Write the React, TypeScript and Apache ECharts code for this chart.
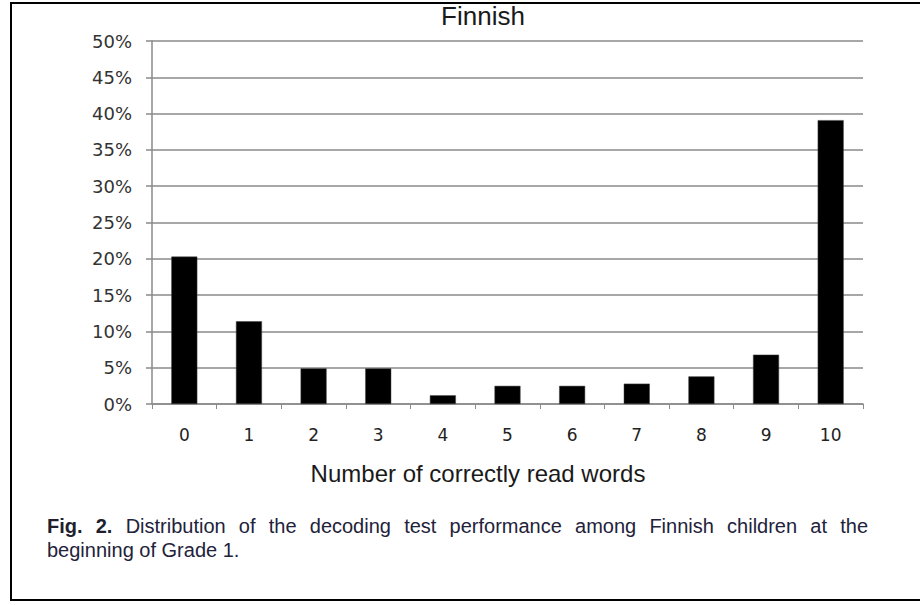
import React, { useEffect, useRef } from "react";
import * as echarts from "echarts";

const categories = ["0", "1", "2", "3", "4", "5", "6", "7", "8", "9", "10"];
const percentValues = [20.3, 11.4, 4.9, 4.9, 1.2, 2.5, 2.5, 2.8, 3.8, 6.8, 39.1];
const yTicks = { min: 0, max: 50, interval: 5 };
const titleText = "Finnish";
const xAxisName = "Number of correctly read words";
const captionBold = "Fig. 2.";
const captionLine1 = "Distribution of the decoding test performance among Finnish children at the";
const captionLine2 = "beginning of Grade 1.";

const CAP_FONT = "Liberation Sans";
const CAP_SIZE = 20;
const CAP_LH = 21;

function justifiedLine(x0: number, x1: number, y: number) {
  const canvas = document.createElement("canvas");
  const ctx = canvas.getContext("2d")!;
  const words: { t: string; bold: boolean }[] = [
    ...captionBold.split(" ").map((t) => ({ t, bold: true })),
    ...captionLine1.split(" ").map((t) => ({ t, bold: false })),
  ];
  const widths = words.map((w) => {
    ctx.font = `${w.bold ? "bold " : ""}${CAP_SIZE}px "${CAP_FONT}"`;
    return ctx.measureText(w.t).width;
  });
  const total = widths.reduce((a, b) => a + b, 0);
  const gap = (x1 - x0 - total) / (words.length - 1);
  let x = x0;
  return words.map((w, i) => {
    const el = {
      type: "text",
      x,
      y,
      style: {
        text: w.t,
        fontSize: CAP_SIZE,
        lineHeight: CAP_LH,
        fontWeight: w.bold ? "bold" : "normal",
        fontFamily: CAP_FONT,
        fill: w.bold ? "#1f1f2e" : "#22223a",
        align: "left",
        verticalAlign: "middle",
      },
    };
    x += widths[i] + gap;
    return el;
  });
}

export default function App() {
  const ref = useRef<HTMLDivElement>(null);
  useEffect(() => {
    if (!ref.current) return;
    const chart = echarts.init(ref.current, null, { renderer: "svg" });
    const gray = "#8a8a8a";
    chart.setOption({
      animation: false,
      backgroundColor: "#ffffff",
      grid: { left: 152, right: 57, top: 41, bottom: 201 },
      xAxis: {
        type: "category",
        data: categories,
        boundaryGap: true,
        axisLine: { show: true, lineStyle: { color: gray, width: 1.5 } },
        axisTick: { show: true, length: 5, alignWithLabel: false, lineStyle: { color: gray, width: 1 } },
        axisLabel: { margin: 22, color: "#222", fontSize: 17, fontFamily: "DejaVu Sans" },
        splitLine: { show: false },
      },
      yAxis: {
        type: "value",
        min: yTicks.min,
        max: yTicks.max,
        interval: yTicks.interval,
        axisLine: { show: true, lineStyle: { color: gray, width: 1.5 } },
        axisTick: { show: true, length: 6, lineStyle: { color: gray, width: 1.5 } },
        axisLabel: {
          margin: 20,
          formatter: "{value}%",
          color: "#333",
          fontSize: 18,
          fontFamily: "DejaVu Sans",
        },
        splitLine: { show: true, lineStyle: { color: gray, width: 1.6 } },
      },
      series: [
        {
          type: "bar",
          data: percentValues,
          barWidth: 26,
          itemStyle: { color: "#000000", borderColor: "#444", borderWidth: 0.5 },
        },
      ],
      graphic: [
        {
          type: "rect",
          shape: { x: 11, y: 3, width: 920, height: 597 },
          style: { fill: "none", stroke: "#000", lineWidth: 2 },
          silent: true,
        },
        {
          type: "text",
          x: 483,
          y: 16,
          style: {
            text: titleText,
            fontSize: 26,
            fontFamily: "Liberation Sans",
            fill: "#1a1a1a",
            align: "center",
            verticalAlign: "middle",
          },
        },
        {
          type: "text",
          x: 478,
          y: 473,
          style: {
            text: xAxisName,
            fontSize: 24,
            fontFamily: "Liberation Sans",
            fill: "#1a1a1a",
            align: "center",
            verticalAlign: "middle",
          },
        },
        ...justifiedLine(47, 868, 526),
        {
          type: "text",
          x: 47,
          y: 550,
          style: {
            text: captionLine2,
            fontSize: CAP_SIZE,
            lineHeight: CAP_LH,
            fontFamily: CAP_FONT,
            fill: "#22223a",
            align: "left",
            verticalAlign: "middle",
          },
        },
      ],
    });
    return () => chart.dispose();
  }, []);
  return (
    <div
      ref={ref}
      style={{ position: "fixed", left: 0, top: 0, width: 920, height: 605, background: "#fff" }}
    />
  );
}
